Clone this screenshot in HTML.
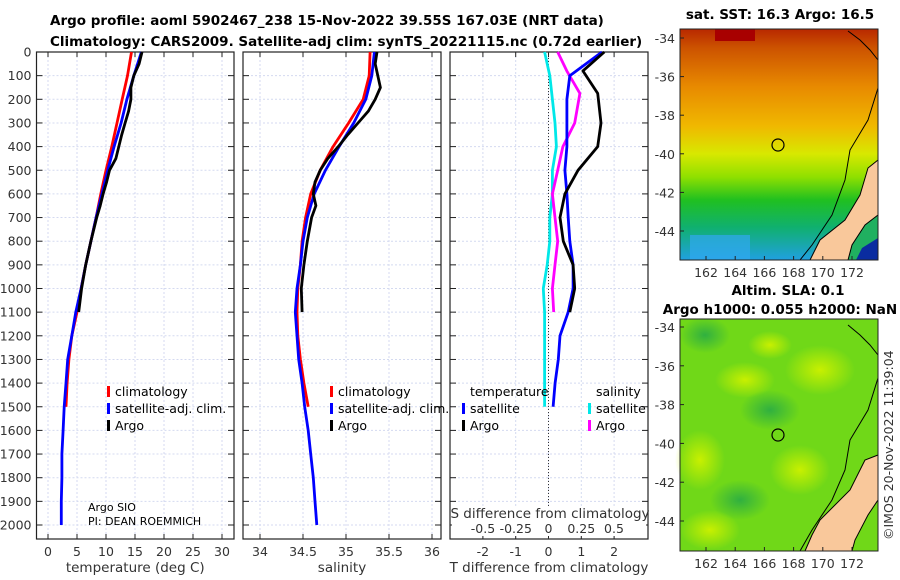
<!DOCTYPE html>
<html><head><meta charset="utf-8">
<style>
html,body{margin:0;padding:0;background:#fff;}
svg{display:block;font-family:"DejaVu Sans","Liberation Sans",sans-serif;}
.tk{font-size:12.5px;fill:#333;}
.ttl{font-size:13.5px;font-weight:bold;fill:#000;}
.lg{font-size:12.5px;fill:#000;}
</style></head>
<body>
<svg id="fig" width="900" height="580" viewBox="0 0 900 580">
<defs>
<linearGradient id="sstg" x1="0" y1="0" x2="0" y2="1">
<stop offset="0" stop-color="#b82800"/><stop offset="0.08" stop-color="#cc5200"/>
<stop offset="0.25" stop-color="#e88a00"/><stop offset="0.42" stop-color="#f0b800"/>
<stop offset="0.54" stop-color="#d8e800"/><stop offset="0.64" stop-color="#90e000"/>
<stop offset="0.74" stop-color="#20c020"/><stop offset="0.86" stop-color="#10b070"/>
<stop offset="1" stop-color="#20a0e0"/></linearGradient>
<radialGradient id="slab" cx="0.5" cy="0.5" r="0.5"><stop offset="0" stop-color="#c8f000"/><stop offset="1" stop-color="#c8f000" stop-opacity="0"/></radialGradient>
<radialGradient id="slag" cx="0.5" cy="0.5" r="0.5"><stop offset="0" stop-color="#30b040"/><stop offset="1" stop-color="#30b040" stop-opacity="0"/></radialGradient>
</defs>
<text class="ttl" x="50" y="25">Argo profile: aoml 5902467_238 15-Nov-2022 39.55S 167.03E (NRT data)</text>
<text class="ttl" x="50" y="46">Climatology: CARS2009. Satellite-adj clim: synTS_20221115.nc (0.72d earlier)</text>
<g id="panels"></g>

<!-- SST map -->
<g>
<text class="ttl" x="780" y="19" text-anchor="middle">sat. SST: 16.3 Argo: 16.5</text>
<rect x="680" y="29" width="198" height="231" fill="url(#sstg)"/>
<rect x="715" y="29" width="40" height="12" fill="#a80000"/>
<rect x="690" y="235" width="60" height="25" fill="#30a8f0" opacity="0.7"/>
<polygon points="878,160 868,168 860,195 845,220 820,240 810,260 878,260" fill="#f9c89b" stroke="#000" stroke-width="1"/>
<polygon points="878,215 865,225 852,245 848,260 878,260" fill="#20b060" stroke="#000" stroke-width="1"/>
<polygon points="862,248 878,238 878,260 856,260" fill="#0a2ca0"/>
<polyline points="848,31 860,40 870,50 878,60" fill="none" stroke="#000" stroke-width="1"/>
<polyline points="878,88 868,120 850,150 845,180 832,215 812,245 800,260" fill="none" stroke="#000" stroke-width="1"/>
<circle cx="778" cy="145" r="6" fill="none" stroke="#000" stroke-width="1.2"/>
<rect x="680" y="29" width="198" height="231" fill="none" stroke="#222" stroke-width="1"/>
</g>
<!-- SLA map -->
<g>
<text class="ttl" x="788" y="295" text-anchor="middle">Altim. SLA: 0.1</text>
<text class="ttl" x="780" y="314" text-anchor="middle">Argo h1000: 0.055 h2000: NaN</text>
<rect x="680" y="319" width="198" height="232" fill="#70d818"/>
<ellipse cx="705" cy="335" rx="25" ry="18" fill="url(#slag)"/>
<ellipse cx="770" cy="345" rx="22" ry="14" fill="url(#slab)"/>
<ellipse cx="745" cy="380" rx="30" ry="18" fill="url(#slab)"/>
<ellipse cx="820" cy="370" rx="35" ry="25" fill="url(#slab)"/>
<ellipse cx="770" cy="410" rx="30" ry="20" fill="url(#slag)"/>
<ellipse cx="700" cy="460" rx="25" ry="30" fill="url(#slab)"/>
<ellipse cx="740" cy="500" rx="30" ry="20" fill="url(#slag)"/>
<ellipse cx="710" cy="530" rx="30" ry="20" fill="url(#slab)"/>
<ellipse cx="800" cy="470" rx="30" ry="25" fill="url(#slab)"/>
<polygon points="878,455 865,460 850,490 820,520 812,535 805,551 878,551" fill="#f9c89b" stroke="#000" stroke-width="1"/>
<polygon points="878,500 868,515 855,540 852,551 878,551" fill="#70d818" stroke="#000" stroke-width="1"/>
<polyline points="848,325 860,335 870,345 878,355" fill="none" stroke="#000" stroke-width="1"/>
<polyline points="878,378 868,410 850,440 845,470 832,500 812,530 800,551" fill="none" stroke="#000" stroke-width="1"/>
<circle cx="778" cy="435" r="6" fill="none" stroke="#000" stroke-width="1.2"/>
<rect x="680" y="319" width="198" height="232" fill="none" stroke="#222" stroke-width="1"/>
</g>
<g id="mapaxes"></g>
<text class="tk" transform="translate(893,540) rotate(-90)">©IMOS 20-Nov-2022 11:39:04</text>
</svg>
<script>
// ---- data (depth in m) ----
const depthsFull = [0,100,200,300,400,500,600,700,800,900,1000,1100,1200,1300,1400,1500,1600,1700,1800,1900,2000];
const depthsArgo = [0,50,100,150,200,250,300,350,400,450,500,550,600,650,700,800,900,1000,1100];
const tempArgo = [16.2,15.7,14.8,14.3,14.3,13.9,13.3,12.7,12.2,11.7,10.6,10.1,9.5,9.0,8.4,7.4,6.5,5.8,5.3];
const tempClim = [14.4,13.7,12.8,11.9,11.0,10.0,9.1,8.3,7.4,6.5,5.7,5.0,4.1,3.6,3.3,3.1];
const tempSat = [16.1,14.8,13.6,12.6,11.4,10.3,9.3,8.3,7.4,6.5,5.7,4.8,4.1,3.4,3.1,2.8,2.6,2.4,2.4,2.3,2.3];
const salArgo = [35.36,35.34,35.37,35.40,35.34,35.26,35.14,35.02,34.91,34.79,34.70,34.64,34.62,34.65,34.60,34.55,34.51,34.48,34.49];
const salClim = [35.28,35.27,35.20,35.03,34.85,34.70,34.59,34.53,34.49,34.47,34.44,34.43,34.44,34.47,34.51,34.56];
const salSat = [35.33,35.30,35.23,35.09,34.92,34.76,34.63,34.55,34.50,34.47,34.43,34.41,34.43,34.45,34.49,34.52,34.56,34.59,34.62,34.64,34.66];
const dTArgo = [1.7,1.05,1.5,1.6,1.5,0.9,0.5,0.35,0.45,0.75,0.8,0.65];
const dTArgoDepths = [0,80,175,300,400,500,600,700,800,900,1000,1100];
const dTSat = [1.63,0.65,0.56,0.56,0.56,0.5,0.56,0.6,0.65,0.75,0.75,0.6,0.35,0.3,0.2,0.14];
const dSArgo = [0.07,0.14,0.24,0.2,0.11,0.07,0.03,0.05,0.07,0.05,0.03,0.04];
const dSSat = [-0.03,0.01,0.03,0.05,0.06,0.03,0.03,0.01,0.01,-0.01,-0.04,-0.03,-0.03,-0.03,-0.03,-0.03];
const depthTicks = [0,100,200,300,400,500,600,700,800,900,1000,1100,1200,1300,1400,1500,1600,1700,1800,1900,2000];
const tTicks = [0,5,10,15,20,25,30];
const sTicks = [34,34.5,35,35.5,36];
const dtTicks = [-2,-1,0,1,2];
const dsTicks = [-0.5,-0.25,0,0.25,0.5];
const lonTicks = [162,164,166,168,170,172];
const latTicks = [-34,-36,-38,-40,-42,-44];

const NS='http://www.w3.org/2000/svg';
const G=document.getElementById('panels');
function el(tag,attrs,parent){const e=document.createElementNS(NS,tag);for(const k in attrs)e.setAttribute(k,attrs[k]);(parent||G).appendChild(e);return e;}
const yD=d=>52+d*0.2365;
const TOP=52,BOT=539;
const xT=v=>48+v*5.8;
const xS=v=>260+(v-34)*86;
const xDT=v=>548.5+v*32.8;
const xDS=v=>548.5+v*131;

function panel(x0,x1,name,ticks,fx,fmt,xlabel,showDepth){
  const g=el('g',{});
  
  
  ticks.forEach(t=>{const x=fx(t);el('line',{x1:x,x2:x,y1:TOP,y2:BOT,stroke:'#d4daf0','stroke-width':1,'stroke-dasharray':'2,2'},g);
    el('line',{x1:x,x2:x,y1:BOT,y2:BOT-5,stroke:'#222'},g);el('line',{x1:x,x2:x,y1:TOP,y2:TOP+5,stroke:'#222'},g);
    if(fmt){const tx=el('text',{x:x,y:556,'text-anchor':'middle',class:'tk'},g);tx.textContent=fmt(t);}});
  depthTicks.forEach(d=>{const y=yD(d);el('line',{x1:x0,x2:x1,y1:y,y2:y,stroke:'#d4daf0','stroke-dasharray':'2,2'},g);
    el('line',{x1:x0,x2:x0+6,y1:y,y2:y,stroke:'#222'},g);el('line',{x1:x1-6,x2:x1,y1:y,y2:y,stroke:'#222'},g);
    if(showDepth){const tx=el('text',{x:x0-5,y:y+4.5,'text-anchor':'end',class:'tk'},g);tx.textContent=d;}});
  el('rect',{x:x0,y:TOP,width:x1-x0,height:BOT-TOP,fill:'none',stroke:'#222','stroke-width':1.2},g);
  const xl=el('text',{x:(x0+x1)/2,y:572,'text-anchor':'middle',class:'tk',style:'font-size:13.5px'},g);xl.textContent=xlabel;
  return g;
}
function line(g,xs,ds,fx,color,name,w){
  const p=el('polyline',{points:xs.map((v,i)=>fx(v).toFixed(1)+','+yD(ds[i]).toFixed(1)).join(' '),fill:'none',stroke:color,'stroke-width':w||2.8,'stroke-linejoin':'round'},g);
  
  
}
function legend(g,x,y,color,label,name){
  el('rect',{x:x,y:y-9,width:3,height:11,fill:color},g);
  const t=el('text',{x:x+8,y:y+1,class:'lg'},g);t.textContent=label;
  
  
}
const p1=panel(36.5,234,'temperature-panel',tTicks,xT,v=>v,'temperature (deg C)',true);
line(p1,tempClim,depthsFull.slice(0,tempClim.length),xT,'#ff0000','temp-climatology-line');
line(p1,tempSat,depthsFull,xT,'#0000ff','temp-satellite-line');
line(p1,tempArgo,depthsArgo,xT,'#000','temp-argo-line');
legend(p1,107,395,'#ff0000','climatology','legend-climatology');
legend(p1,107,412,'#0000ff','satellite-adj. clim.','legend-satellite');
legend(p1,107,429,'#000','Argo','legend-argo');
let t=el('text',{x:88,y:511,class:'lg',style:'font-size:11px'},p1);t.textContent='Argo SIO';
t=el('text',{x:88,y:525,class:'lg',style:'font-size:11px'},p1);t.textContent='PI: DEAN ROEMMICH';

const p2=panel(243,441,'salinity-panel',sTicks,xS,v=>v,'salinity',false);
line(p2,salClim,depthsFull.slice(0,salClim.length),xS,'#ff0000','sal-climatology-line');
line(p2,salSat,depthsFull,xS,'#0000ff','sal-satellite-line');
line(p2,salArgo,depthsArgo,xS,'#000','sal-argo-line');
legend(p2,330,395,'#ff0000','climatology','legend-climatology-2');
legend(p2,330,412,'#0000ff','satellite-adj. clim.','legend-satellite-2');
legend(p2,330,429,'#000','Argo','legend-argo-2');

const p3=panel(450,648,'difference-panel',dtTicks,xDT,v=>v,'T difference from climatology',false);
el('line',{x1:xDT(0),x2:xDT(0),y1:TOP,y2:BOT,stroke:'#333','stroke-dasharray':'1,2'},p3);
const dfull=depthsFull.slice(0,16);
line(p3,dSSat,dfull,xDS,'#00e8e8','sdiff-satellite-line');
line(p3,dSArgo,dTArgoDepths,xDS,'#ff00ff','sdiff-argo-line');
line(p3,dTSat,dfull,xDT,'#0000ff','tdiff-satellite-line');
line(p3,dTArgo,dTArgoDepths,xDT,'#000','tdiff-argo-line');
t=el('text',{x:470,y:396,class:'lg'},p3);t.textContent='temperature';
t=el('text',{x:596,y:396,class:'lg'},p3);t.textContent='salinity';
legend(p3,462,412,'#0000ff','satellite','legend-tdiff-satellite');
legend(p3,462,429,'#000','Argo','legend-tdiff-argo');
legend(p3,588,412,'#00e8e8','satellite','legend-sdiff-satellite');
legend(p3,588,429,'#ff00ff','Argo','legend-sdiff-argo');
el('rect',{x:452,y:506,width:194,height:30,fill:'#fff'},p3);
t=el('text',{x:550,y:518,'text-anchor':'middle',class:'tk',style:'font-size:13.5px'},p3);t.textContent='S difference from climatology';
dsTicks.forEach(v=>{const s=el('text',{x:xDS(v),y:533,'text-anchor':'middle',class:'tk'},p3);s.textContent=v;});

// map axes
const MA=document.getElementById('mapaxes');
const xLon=v=>706+(v-162)*14.6;
[[38,19.3,260],[327,19.4,551]].forEach(([y34,ppd,bot],mi)=>{
  const g=el('g',{},MA);
  
  
  lonTicks.forEach(v=>{const x=xLon(v);el('line',{x1:x,x2:x,y1:bot,y2:bot-4,stroke:'#222'},g);
    const s=el('text',{x:x,y:bot+17,'text-anchor':'middle',class:'tk'},g);s.textContent=v;});
  latTicks.forEach(v=>{const y=y34+(-34-v)*ppd;if(y>bot-3)return;el('line',{x1:680,x2:684,y1:y,y2:y,stroke:'#222'},g);
    const s=el('text',{x:675,y:y+5,'text-anchor':'end',class:'tk'},g);s.textContent=v;});
});
</script>
</body></html>
